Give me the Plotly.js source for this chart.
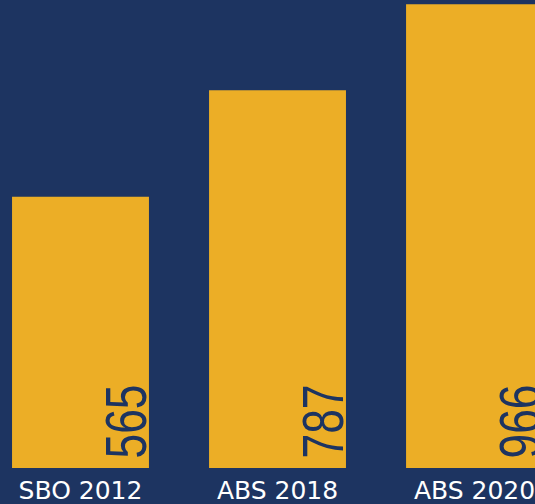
<!DOCTYPE html>
<html>
<head>
<meta charset="utf-8">
<script src="https://cdn.plot.ly/plotly-3.0.1.min.js"></script>
<style>
html,body{margin:0;padding:0;background:#1D3461;overflow:hidden;}
#chart{width:535px;height:504px;}
</style>
</head>
<body>
<div id="chart"></div>
<script>
// Data
var categories = ["SBO 2012", "ABS 2018", "ABS 2020"];
var values = [565, 787, 966];

var NAVY = "#1D3461";
var GOLD = "#ECAE26";

var trace = {
  type: "bar",
  x: categories,
  y: values,
  marker: {color: GOLD, line: {width: 0}},
  hoverinfo: "none",
  showlegend: false
};

var annotations = categories.map(function (c, i) {
  return {
    x: c,
    y: 0,
    xref: "x",
    yref: "y",
    text: String(values[i]),
    showarrow: false,
    textangle: -90,
    xanchor: "right",
    yanchor: "bottom",
    xshift: 79,
    yshift: 7,
    font: {family: "Liberation Sans, Arial, sans-serif", size: 58, color: NAVY}
  };
});

var layout = {
  width: 535,
  height: 504,
  margin: {l: 0, r: 0, t: 0, b: 36, pad: 0},
  paper_bgcolor: NAVY,
  plot_bgcolor: NAVY,
  bargap: 0.305,
  xaxis: {
    type: "category",
    range: [-0.4086, 2.307],
    showgrid: false,
    zeroline: false,
    showline: false,
    ticks: "",
    ticklabelstandoff: 5,
    tickfont: {family: "DejaVu Sans", size: 25, color: "#FFFFFF"},
    fixedrange: true
  },
  yaxis: {
    range: [0, 975],
    visible: false,
    showgrid: false,
    zeroline: false,
    fixedrange: true
  },
  annotations: annotations,
  showlegend: false
};

Plotly.newPlot("chart", [trace], layout, {displayModeBar: false, staticPlot: true}).then(function () {
  // condense the value labels (no condensed font installed): keep the start, shorten the run
  document.querySelectorAll("#chart .annotation-text").forEach(function (t) {
    var bb = t.getBBox();
    t.setAttribute("text-anchor", "start");
    t.setAttribute("x", bb.x);
    t.setAttribute("textLength", 74);
    t.setAttribute("lengthAdjust", "spacingAndGlyphs");
  });
});
</script>
</body>
</html>
